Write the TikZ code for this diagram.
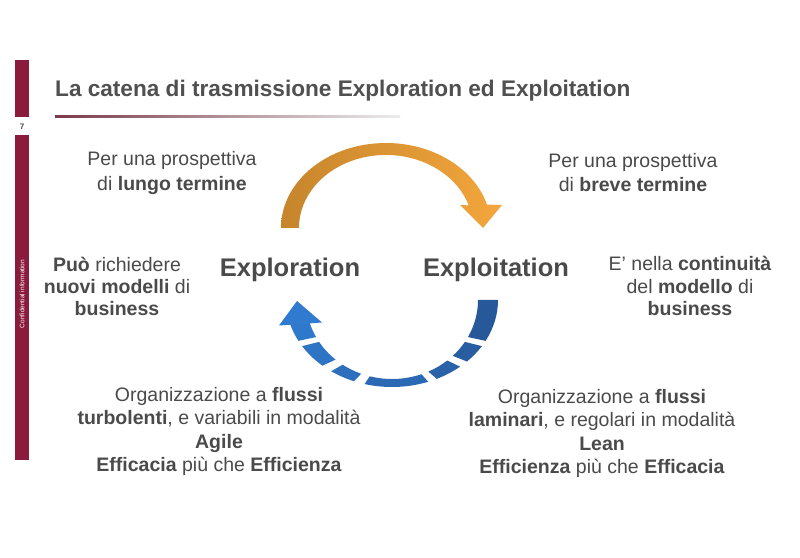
\documentclass[tikz,border=0pt]{standalone}
\usepackage{fontspec}
\setmainfont{Liberation Sans}
\definecolor{sidebar}{HTML}{8A1B3D}
\definecolor{txtc}{HTML}{4A4A4A}
\definecolor{titlec}{HTML}{505050}
\definecolor{orgL}{HTML}{C6852C}
\definecolor{orgR}{HTML}{F3A63C}
\definecolor{bluR}{HTML}{27589A}
\definecolor{bluL}{HTML}{307BCF}
\definecolor{lineL}{HTML}{7A3A4A}
\definecolor{lineR}{HTML}{EDEDED}
\tikzset{
  txt/.style={anchor=base, inner sep=0pt, font=\fontsize{19.5}{22}\selectfont, text=txtc},
  big/.style={anchor=base, inner sep=0pt, font=\fontsize{25.5}{30}\selectfont\bfseries, text=txtc},
  bar/.style={fill=sidebar, draw=none}
}
\begin{document}
\begin{tikzpicture}[x=1pt,y=1pt]
\useasboundingbox (0,0) rectangle (800,557);
\fill[white] (0,0) rectangle (800,557);

% sidebar
\fill[bar] (15,497) rectangle (29,440);
\fill[bar] (15,422) rectangle (29,97);
\node[anchor=base, inner sep=0pt, font=\fontsize{8}{9}\selectfont\bfseries, text=txtc] (pg) at (22,427) {7};
\node[rotate=90, inner sep=0pt, font=\fontsize{6.5}{7}\selectfont, text=white] (conf) at (22,263) {Confidential information};

% title
\node[anchor=base west, inner sep=0pt, font=\fontsize{22.6}{26}\selectfont\bfseries, text=titlec] (title) at (55,460) {La catena di trasmissione Exploration ed Exploitation};
\shade[left color=lineL, right color=lineR] (55,439.7) rectangle (400,441.3);

% orange arrow
\shade[left color=orgL, right color=orgR]
  (281,329) arc[start angle=180, end angle=16, x radius=105pt, y radius=85pt]
  -- (502,352) -- (483,329) -- (460,352)
  -- (468.7,351.6) arc[start angle=18, end angle=180, x radius=87pt, y radius=73pt] -- cycle;

% blue dashed arrow
\begin{scope}[shift={(392,257)}]
\foreach \a/\b/\m in {0/28/0, 32/45/15, 50/65/30, 70/105/48, 111/125/65, 131/148/80, 152/165/95}{
  \fill[bluL!\m!bluR] (-\a:106pt and 87pt)
    arc[start angle=-\a, end angle=-\b, x radius=106pt, y radius=87pt]
    -- (-\b:86pt and 79pt)
    arc[start angle=-\b, end angle=-\a, x radius=86pt, y radius=79pt] -- cycle;
}
\end{scope}
\fill[bluL] (279,231.5) -- (297,256) -- (322,234.5) -- cycle;

% labels
\node[big] (expl) at (290,280) {Exploration};
\node[big] (expt) at (496,280) {Exploitation};

\node[txt] (tl1) at (172,391) {Per una prospettiva};
\node[txt] (tl2) at (172,366) {di \textbf{lungo termine}};
\node[txt] (tr1) at (633,389) {Per una prospettiva};
\node[txt] (tr2) at (633,365) {di \textbf{breve termine}};

\node[txt] (l1) at (117,285) {\textbf{Può} richiedere};
\node[txt] (l2) at (117,263) {\textbf{nuovi modelli} di};
\node[txt] (l3) at (117,241) {\textbf{business}};

\node[txt] (r1) at (690,286) {E’ nella \textbf{continuità}};
\node[txt] (r2) at (690,263) {del \textbf{modello} di};
\node[txt] (r3) at (690,241) {\textbf{business}};

\node[txt] (bl1) at (219,155) {Organizzazione a \textbf{flussi}};
\node[txt] (bl2) at (219,132) {\textbf{turbolenti}, e variabili in modalità};
\node[txt] (bl3) at (219,108.5) {\textbf{Agile}};
\node[txt] (bl4) at (219,85.3) {\textbf{Efficacia} più che \textbf{Efficienza}};

\node[txt] (br1) at (602,153) {Organizzazione a \textbf{flussi}};
\node[txt] (br2) at (602,130) {\textbf{laminari}, e regolari in modalità};
\node[txt] (br3) at (602,106.5) {\textbf{Lean}};
\node[txt] (br4) at (602,83.3) {\textbf{Efficienza} più che \textbf{Efficacia}};
\end{tikzpicture}
\end{document}
